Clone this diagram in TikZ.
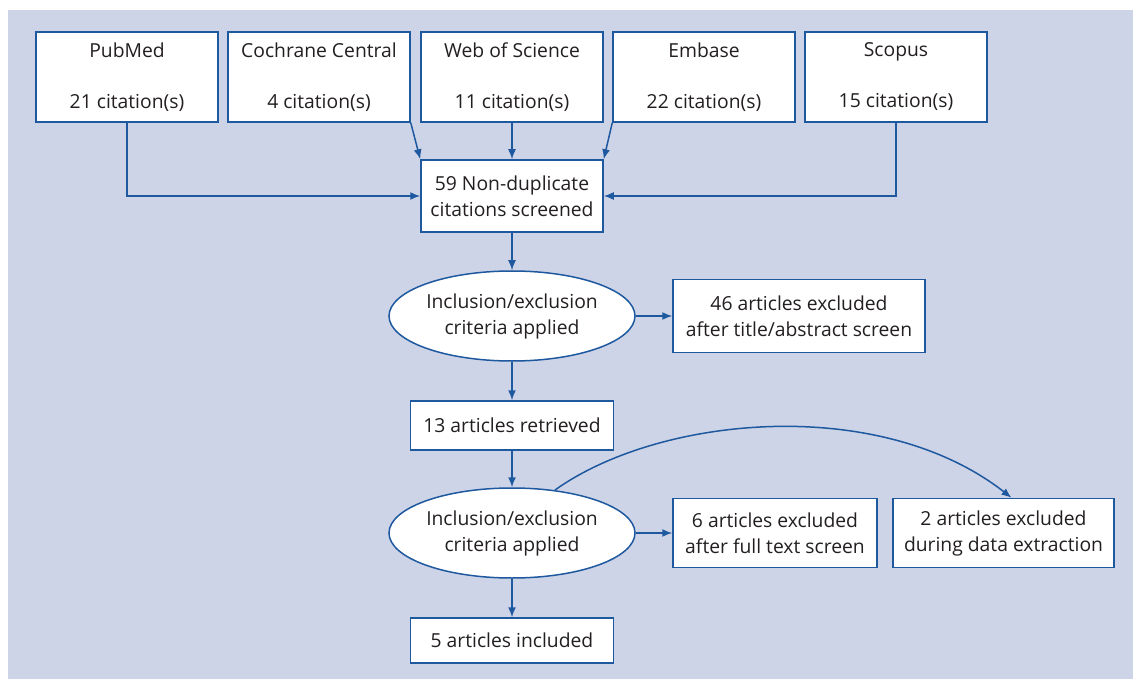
\documentclass[tikz,border=0pt]{standalone}
\usepackage{fontspec}
\setmainfont{Open Sans}
\usepackage{tikz}
\usetikzlibrary{shapes.geometric,arrows.meta}
\definecolor{panelbg}{RGB}{206,212,232}
\definecolor{flowblue}{RGB}{30,88,158}
\definecolor{flowtext}{RGB}{35,31,32}

\begin{document}
\begin{tikzpicture}[x=1pt, y=-1pt,
        flowbox/.style={draw=flowblue, fill=white, line width=1.5pt, text=flowtext, align=center, inner sep=0pt, font=\fontsize{19.3}{26}\selectfont},
        srcbox/.style={flowbox, minimum width=182pt, minimum height=90pt},
        critoval/.style={flowbox, ellipse, minimum width=246pt, minimum height=90pt},
        flowarrow/.style={draw=flowblue, line width=1.5pt, -{Latex[length=10pt,width=8pt]}}]
                \useasboundingbox (0,0) rectangle (1133,679);
                \fill[panelbg] (8,10) rectangle (1133,679);

                \node[srcbox] (pubmed) at (127,77) {PubMed\\[25pt]21 citation(s)};
                \node[srcbox] (cochrane) at (319,77) {Cochrane Central\\[25pt]4 citation(s)};
                \node[srcbox] (wos) at (512,77) {Web of Science\\[25pt]11 citation(s)};
                \node[srcbox] (embase) at (704,77) {Embase\\[25pt]22 citation(s)};
                \node[srcbox] (scopus) at (896,77) {Scopus\\[25pt]15 citation(s)};

                \node[flowbox, minimum width=182pt, minimum height=72pt] (screen) at (512,196) {59 Non-duplicate\\citations screened};
                \node[critoval] (crit1) at (512,316) {Inclusion/exclusion\\criteria applied};
                \node[flowbox, minimum width=252pt, minimum height=73pt] (exclabs) at (799,316) {46 articles excluded\\after title/abstract screen};
                \node[flowbox, minimum width=203pt, minimum height=49pt] (retrieved) at (512,425.5) {13 articles retrieved};
                \node[critoval] (crit2) at (512,533) {Inclusion/exclusion\\criteria applied};
                \node[flowbox, minimum width=204pt, minimum height=69pt] (exclfull) at (775,533) {6 articles excluded\\after full text screen};
                \node[flowbox, minimum width=221pt, minimum height=69pt] (excldata) at (1003.5,533) {2 articles excluded\\during data extraction};
                \node[flowbox, minimum width=203pt, minimum height=45pt] (included) at (512,640.5) {5 articles included};

                \draw[flowarrow] (pubmed.south) |- (screen.west);
                \draw[flowarrow] (scopus.south) |- (screen.east);
                \draw[flowarrow] (cochrane.south east) -- (screen.north west);
                \draw[flowarrow] (wos) -- (screen);
                \draw[flowarrow] (embase.south west) -- (screen.north east);
                \draw[flowarrow] (screen) -- (crit1);
                \draw[flowarrow] (crit1.east) -- (exclabs.west);
                \draw[flowarrow] (crit1) -- (retrieved);
                \draw[flowarrow] (retrieved) -- (crit2);
                \draw[flowarrow] (crit2.east) -- (exclfull.west);
                \draw[flowarrow] (crit2.45) .. controls (660,415) and (880,395) .. ([xshift=8pt]excldata.north);
                \draw[flowarrow] (crit2) -- (included);
            \end{tikzpicture}
\end{document}
